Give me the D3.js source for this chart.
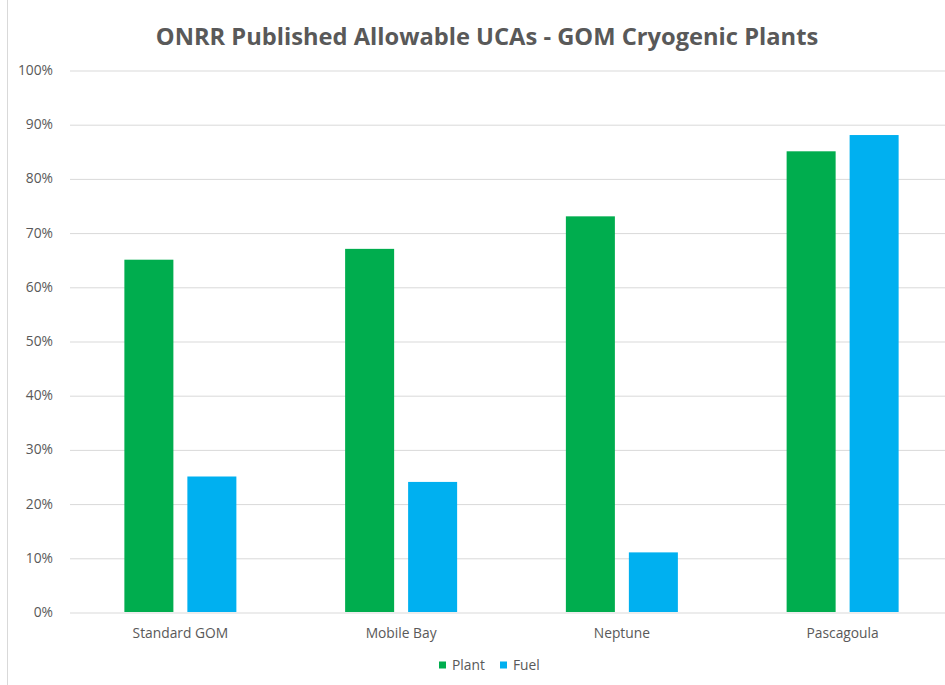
<!DOCTYPE html>
<html><head><meta charset="utf-8">
<script src="https://cdn.jsdelivr.net/npm/d3@7"></script>
<style>body{margin:0;background:#fff}svg{display:block}</style>
</head><body>
<svg id="c" width="945" height="685"></svg>
<script>
const categories = ["Standard GOM", "Mobile Bay", "Neptune", "Pascagoula"];
const seriesNames = ["Plant", "Fuel"];
const plantValues = [65, 67, 73, 85];
const fuelValues = [25, 24, 11, 88];
const yTicks = [0, 10, 20, 30, 40, 50, 60, 70, 80, 90, 100];
const titleText = "ONRR Published Allowable UCAs - GOM Cryogenic Plants";

const colors = {Plant: "#00AD4E", Fuel: "#00B0F0"};
const svg = d3.select("#c");
const W = 945, H = 685;
const m = {left: 70, right: 953, top: 70, bottom: 612};
const font = "'Open Sans', 'Liberation Sans', sans-serif";
const fs = "13.8px";

// chart frame left border
svg.append("line").attr("x1", 7.5).attr("x2", 7.5).attr("y1", 0).attr("y2", H)
  .attr("stroke", "#d9d9d9").attr("stroke-width", 1);

const x0 = d3.scaleBand().domain(categories).range([m.left, m.right]).paddingInner(0).paddingOuter(0);
const x1 = d3.scaleBand().domain(seriesNames).range([0, 112]).paddingInner(0.222);
const y = d3.scaleLinear().domain([0, 100]).range([m.bottom, m.top]);

// gridlines
const yAxis = d3.axisLeft(y).tickValues(yTicks).tickFormat(d => d + "%").tickSize(-(W + 10 - m.left)).tickPadding(17);
const gy = svg.append("g").attr("transform", `translate(${m.left},0)`).call(yAxis);
gy.select(".domain").remove();
gy.selectAll(".tick line").attr("stroke", "#d9d9d9").attr("stroke-width", 1)
  .attr("transform", "translate(0,0.5)");
gy.selectAll(".tick text").attr("fill", "#595959").style("font-family", font).style("font-size", fs);

// bars
const data = categories.map((c, i) => ({cat: c, vals: [{k: "Plant", v: plantValues[i]}, {k: "Fuel", v: fuelValues[i]}]}));
const groups = svg.append("g").selectAll("g").data(data).join("g")
  .attr("transform", d => `translate(${x0(d.cat) + x0.bandwidth() / 2 - 56},0)`);
groups.selectAll("rect").data(d => d.vals).join("rect")
  .attr("x", d => x1(d.k))
  .attr("width", x1.bandwidth())
  .attr("y", d => y(d.v))
  .attr("height", d => y(0) - y(d.v))
  .attr("fill", d => colors[d.k]);

// x axis labels
const xAxis = d3.axisBottom(x0).tickSize(0).tickPadding(16);
const gx = svg.append("g").attr("transform", `translate(0,${m.bottom})`).call(xAxis);
gx.select(".domain").remove();
gx.selectAll(".tick text").attr("fill", "#595959").style("font-family", font).style("font-size", fs);

// title
const t = svg.append("text").attr("x", 487).attr("y", 45).attr("text-anchor", "middle")
  .attr("fill", "#595959").style("font-family", font).style("font-weight", "bold")
  .style("font-size", "24px").text(titleText);
const tw = t.node().getComputedTextLength();
t.style("font-size", (24 * 663 / tw) + "px");

// legend
const leg = svg.append("g").attr("transform", "translate(439,665)");
const items = [{k: "Plant", x: 0}, {k: "Fuel", x: 61}];
items.forEach(it => {
  leg.append("rect").attr("x", it.x).attr("y", -3.5).attr("width", 7).attr("height", 7).attr("fill", colors[it.k]);
  leg.append("text").attr("x", it.x + 13).attr("y", 0).attr("dy", "0.35em")
    .attr("fill", "#595959").style("font-family", font).style("font-size", fs).text(it.k);
});
</script>
</body></html>
